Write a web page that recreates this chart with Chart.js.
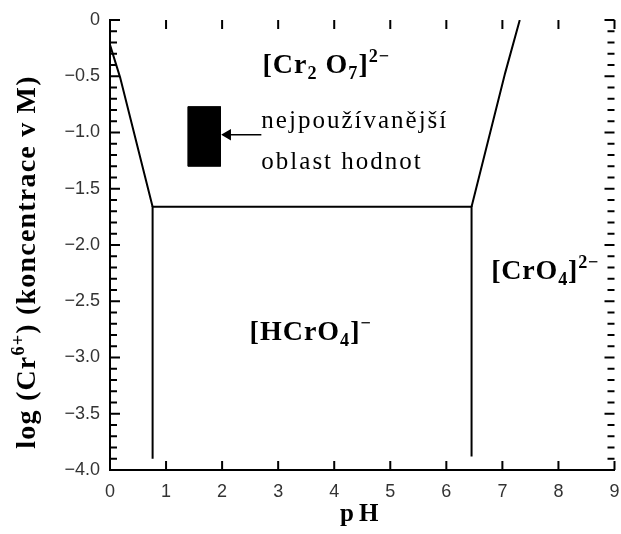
<!DOCTYPE html>
<html>
<head>
<meta charset="utf-8">
<script src="https://cdn.jsdelivr.net/npm/chart.js@4"></script>
<style>body{margin:0;background:#fff}</style>
</head>
<body>
<canvas id="myChart" width="621" height="534"></canvas>
<script>
// boundaries of the Cr(VI) species diagram (pH, log c)
const plateauX = [0.76, 0.76, 6.45, 6.45]
const plateauY = [-3.9, -1.66, -1.66, -3.88]
const leftEdgeX = [0, 0.18, 0.76]
const leftEdgeY = [-0.22, -0.51, -1.66]
const rightEdgeX = [6.45, 7.05, 7.31]
const rightEdgeY = [-1.66, -0.47, 0]
// most used range (box) and arrow pointing at it
const boxX = [1.39, 1.97]
const boxY = [-0.77, -1.30]
const arrowX = [2.70, 2.10]
const arrowY = [-1.02, -1.02]

const xTicks = [0, 1, 2, 3, 4, 5, 6, 7, 8, 9]
const yTicks = [0, -0.5, -1.0, -1.5, -2.0, -2.5, -3.0, -3.5, -4.0]

function toPoints(xs, ys) {
    return xs.map((x, i) => ({x: x, y: ys[i]}))
}

const boxPoints = [
    {x: boxX[0], y: boxY[0]}, {x: boxX[1], y: boxY[0]},
    {x: boxX[1], y: boxY[1]}, {x: boxX[0], y: boxY[1]},
    {x: boxX[0], y: boxY[0]}
]

const labels = [
    {x: 2.72, y: -0.47, size: 28, bold: true, sp: 1, parts: [['[Cr', ''], ['2', 'sub'], [' O', ''], ['7', 'sub'], [']', ''], ['2\u2212', 'sup']]},
    {x: 2.70, y: -0.96, size: 25, bold: false, sp: 2, parts: [['nejpoužívanější', '']]},
    {x: 2.70, y: -1.32, size: 25, bold: false, sp: 2, parts: [['oblast hodnot', '']]},
    {x: 2.49, y: -2.84, size: 28, bold: true, sp: 1, parts: [['[HCrO', ''], ['4', 'sub'], [']', ''], ['\u2212', 'sup']]},
    {x: 6.80, y: -2.30, size: 28, bold: true, sp: 0.8, parts: [['[CrO', ''], ['4', 'sub'], [']', ''], ['2\u2212', 'sup']]}
]

function drawRich(ctx, x, y, parts, size, bold, measureOnly) {
    let cx = x
    for (const [t, mode] of parts) {
        const s = mode ? size * 0.65 : size
        ctx.font = (bold ? 'bold ' : '') + s + 'px "Liberation Serif"'
        let dy = 0
        if (mode === 'sub') dy = size * 0.22
        if (mode === 'sup') dy = -size * 0.38
        if (!measureOnly) ctx.fillText(t, cx, y + dy)
        cx += ctx.measureText(t).width
    }
    return cx - x
}

const decorPlugin = {
    id: 'decor',
    afterDraw(chart) {
        const ctx = chart.ctx
        const xs = chart.scales.x
        const ys = chart.scales.y
        const a = chart.chartArea
        ctx.save()
        ctx.strokeStyle = '#000'
        ctx.lineWidth = 2
        ctx.beginPath()
        // inner ticks on bottom and top
        for (const v of xTicks) {
            const px = xs.getPixelForValue(v)
            ctx.moveTo(px, a.bottom); ctx.lineTo(px, a.bottom - 9)
            ctx.moveTo(px, a.top); ctx.lineTo(px, a.top + 9)
        }
        // minor ticks on left and right every 0.1
        for (let i = 0; i <= 40; i++) {
            const py = ys.getPixelForValue(-i / 10)
            const len = i % 5 === 0 ? 10 : 7
            ctx.moveTo(a.left, py); ctx.lineTo(a.left + len, py)
            ctx.moveTo(a.right, py); ctx.lineTo(a.right - len, py)
        }
        ctx.stroke()

        ctx.fillStyle = '#000'
        ctx.textBaseline = 'alphabetic'
        ctx.textAlign = 'left'
        for (const l of labels) {
            ctx.letterSpacing = l.sp + 'px'
            drawRich(ctx, xs.getPixelForValue(l.x), ys.getPixelForValue(l.y), l.parts, l.size, l.bold)
        }

        // axis titles
        ctx.letterSpacing = '5px'
        ctx.font = 'bold 25px "Liberation Serif"'
        ctx.fillText('pH', 340, 521)

        const yTitle = [['log (Cr', ''], ['6+', 'sup'], [') (koncentrace v M)', '']]
        ctx.letterSpacing = '1.2px'
        const w = drawRich(ctx, 0, 0, yTitle, 28, true, true)
        ctx.translate(35, 262)
        ctx.rotate(-Math.PI / 2)
        drawRich(ctx, -w / 2, 0, yTitle, 28, true)
        ctx.restore()
    }
}

const lineStyle = {showLine: true, borderColor: '#000', borderWidth: 2, pointRadius: 0, fill: false}

const ctx = document.getElementById('myChart').getContext('2d')
const myChart = new Chart(ctx, {
    type: 'scatter',
    data: {
        datasets: [
            Object.assign({label: 'HCrO4 region', data: toPoints(plateauX, plateauY)}, lineStyle),
            Object.assign({label: 'left edge', data: toPoints(leftEdgeX, leftEdgeY)}, lineStyle),
            Object.assign({label: 'right edge', data: toPoints(rightEdgeX, rightEdgeY)}, lineStyle),
            {
                label: 'most used range', data: boxPoints, showLine: true,
                borderColor: '#000', borderWidth: 1, backgroundColor: '#000',
                pointRadius: 0, fill: 'shape'
            },
            {
                label: 'arrow', data: toPoints(arrowX, arrowY), showLine: true,
                borderColor: '#000', borderWidth: 1.5, backgroundColor: '#000',
                pointStyle: 'triangle', pointRotation: -90,
                pointRadius: [0, 5], fill: false
            }
        ]
    },
    options: {
        responsive: false,
        animation: false,
        layout: {padding: {left: 10, right: 4, top: 20, bottom: 0}},
        plugins: {legend: {display: false}, tooltip: {enabled: false}},
        scales: {
            x: {
                type: 'linear', min: 0, max: 9,
                afterFit(s) { s.height = 64; s.paddingRight = 0; s.paddingLeft = 0 },
                grid: {display: false},
                border: {color: '#000', width: 2},
                ticks: {
                    stepSize: 1, padding: 3, color: '#333',
                    font: {family: '"Liberation Sans"', size: 18}
                }
            },
            y: {
                type: 'linear', min: -4, max: 0,
                afterFit(s) { s.width = 100 },
                grid: {display: false},
                border: {color: '#000', width: 2},
                ticks: {
                    stepSize: 0.5, padding: 2, color: '#333',
                    font: {family: '"Liberation Sans"', size: 18},
                    callback: v => v === 0 ? '0' : '\u2212' + Math.abs(v).toFixed(1)
                }
            }
        }
    },
    plugins: [decorPlugin]
})
</script>
</body>
</html>
